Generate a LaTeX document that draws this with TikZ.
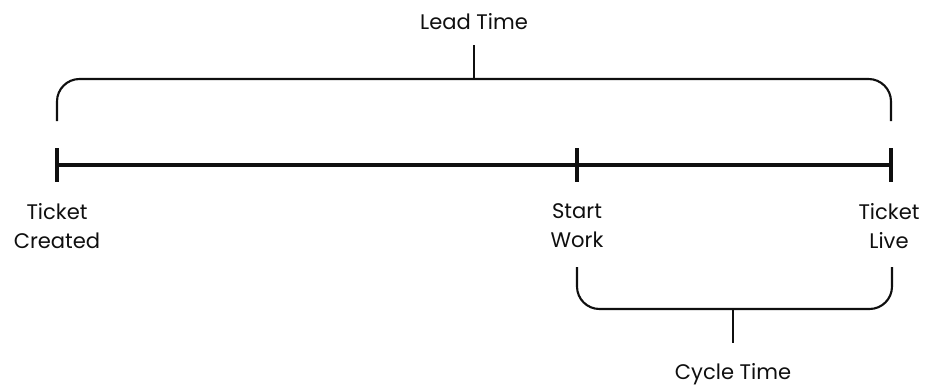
\documentclass[tikz,border=0pt]{standalone}
\usepackage{fontspec}
\setmainfont{Poppins}
\usepackage{tikz}
\usetikzlibrary{positioning}
\definecolor{LineBlack}{RGB}{15,15,15}

\begin{document}
\begin{tikzpicture}[
  x=0.02cm,y=-0.02cm,
  timeline/.style={draw=LineBlack,line width=2.2pt},
  tick/.style={draw=LineBlack,line width=2.2pt},
  brace/.style={draw=LineBlack,line width=1.2pt,rounded corners=0.45cm},
  stem/.style={draw=LineBlack,line width=1.2pt},
  lbl/.style={align=center,inner sep=1pt,text=LineBlack,
              font=\fontsize{12}{16.5}\selectfont},
]
\useasboundingbox (0,0) rectangle (929,386);
% points on the time line
\coordinate (created) at (57,165);
\coordinate (start) at (577,165);
\coordinate (live) at (891,165);
\draw[timeline] (created) -- (live);
\foreach \p in {created,start,live}
  \draw[tick] (\p) ++(0,-17) -- ++(0,34);
% labels below the line
\node[lbl] (created-lbl) at (57,226) {Ticket\\Created};
\node[lbl] (start-lbl) at (577,226) {Start\\Work};
\node[lbl] (live-lbl) at (889,226) {Ticket\\Live};
% Lead Time --- brace over the whole line
\coordinate (lead-top) at (474,79);
\draw[brace] (57,121) -- (57,79) -- (891,79) -- (891,121);
\node[lbl] (lead) at (474,22) {Lead Time};
\draw[stem] (lead-top) -- (lead.south |- 0,45);
% Cycle Time --- brace under start to live
\coordinate (cycle-bot) at (733,309);
\draw[brace] (577,267) -- (577,309) -- (892,309) -- (892,267);
\node[lbl] (cycle) at (733,374) {Cycle Time};
\draw[stem] (cycle-bot) -- (cycle.north |- 0,343);
\end{tikzpicture}
\end{document}
